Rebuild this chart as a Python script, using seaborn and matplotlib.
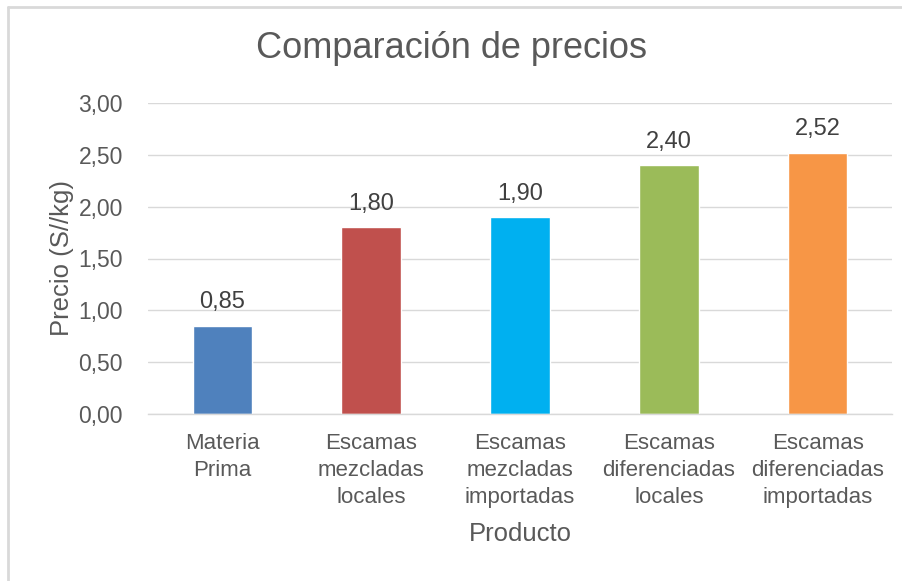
import matplotlib
matplotlib.use("Agg")
import matplotlib.pyplot as plt
import seaborn as sns
import pandas as pd
from matplotlib.lines import Line2D

categories = ["Materia\nPrima", "Escamas\nmezcladas\nlocales", "Escamas\nmezcladas\nimportadas",
              "Escamas\ndiferenciadas\nlocales", "Escamas\ndiferenciadas\nimportadas"]
values = [0.85, 1.80, 1.90, 2.40, 2.52]
colors = ["#4F81BD", "#C0504D", "#00B0F0", "#9BBB59", "#F79646"]
yticks = [0, 0.5, 1.0, 1.5, 2.0, 2.5, 3.0]

sns.set_theme(style="white")
plt.rcParams['font.family'] = ['Liberation Sans', 'DejaVu Sans']
txt = "#595959"

df = pd.DataFrame({"Producto": categories, "Precio": values})
fig = plt.figure(figsize=(9.03, 5.81), dpi=100)
# outer chart border (left and top edges visible)
fig.lines.append(Line2D([8/903, 8/903], [0, 1 - 7/581], transform=fig.transFigure,
                        color="#d9d9d9", linewidth=2))
fig.lines.append(Line2D([8/903, 1], [1 - 7/581, 1 - 7/581], transform=fig.transFigure,
                        color="#d9d9d9", linewidth=2))
ax = fig.add_axes([148/903, 1 - 414/581, 744/903, 311/581])
sns.barplot(data=df, x="Producto", y="Precio", hue="Producto", palette=colors,
            width=0.4, legend=False, ax=ax, saturation=1)
ax.set_ylim(0, 3.0)
ax.set_yticks(yticks)
ax.set_yticklabels([f"{v:.2f}".replace(".", ",") for v in yticks], fontsize=16.5, color=txt)
ax.tick_params(axis='x', labelsize=16, colors=txt, length=0, pad=14)
ax.tick_params(axis='y', length=0, pad=18)
for lab in ax.get_xticklabels():
    lab.set_linespacing(1.36)
ax.yaxis.grid(True, color="#d9d9d9", linewidth=1)
ax.set_axisbelow(True)
for s in ["top", "right", "left"]:
    ax.spines[s].set_visible(False)
ax.spines["bottom"].set_color("#d9d9d9")
ax.spines["bottom"].set_linewidth(1)
for c in ax.containers:
    ax.bar_label(c, labels=[f"{v:.2f}".replace(".", ",") for v in c.datavalues],
                 padding=9, fontsize=17, color="#404040")
ax.set_xlabel("Producto", fontsize=18.5, color=txt, labelpad=10)
ax.set_ylabel("Precio (S//kg)", fontsize=18.5, color=txt, labelpad=3)
fig.text(0.5, 1 - 49/581, "Comparación de precios", ha="center", va="center", fontsize=26, color=txt)
fig.savefig("out.png", dpi=100, facecolor="white")
